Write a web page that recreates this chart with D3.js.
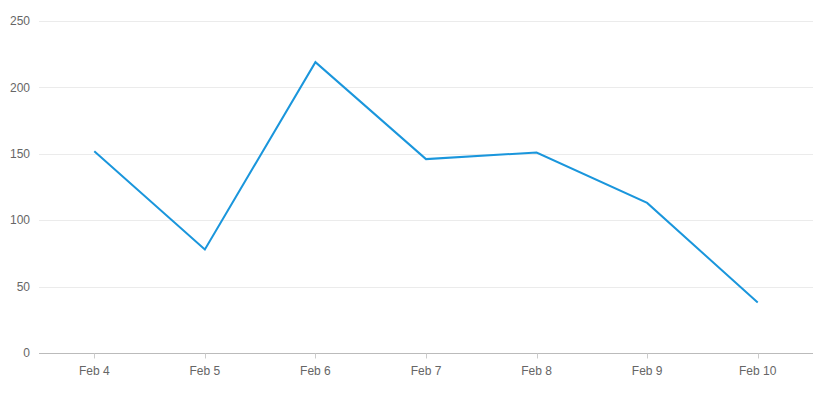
<!DOCTYPE html>
<html>
<head>
<meta charset="utf-8">
<script src="https://cdn.jsdelivr.net/npm/d3@7"></script>
<style>
  body { margin: 0; background: #fff; }
  svg text { font-family: "Liberation Sans", Arial, sans-serif; font-size: 12px; fill: #666; }
</style>
</head>
<body>
<svg></svg>
<script>
// chart data
const dates = ["Feb 4", "Feb 5", "Feb 6", "Feb 7", "Feb 8", "Feb 9", "Feb 10"];
const values = [152, 78, 219, 146, 151, 113, 38];
const yTicks = [0, 50, 100, 150, 200, 250];

const width = 831;
const height = 397;
const margin = { top: 21, right: 18, bottom: 44, left: 39 };

const svg = d3.select("svg").attr("width", width).attr("height", height);

const x = d3.scalePoint()
    .domain(dates)
    .range([margin.left, width - margin.right])
    .padding(0.5);

const y = d3.scaleLinear()
    .domain([0, 250])
    .range([height - margin.bottom, margin.top]);

// horizontal grid lines
svg.append("g")
    .selectAll("line")
    .data(yTicks.filter(d => d > 0))
    .enter()
    .append("line")
    .attr("x1", margin.left)
    .attr("x2", width - margin.right)
    .attr("y1", d => Math.round(y(d)) + 0.5)
    .attr("y2", d => Math.round(y(d)) + 0.5)
    .attr("stroke", "#ebebeb")
    .attr("stroke-width", 1);

// y labels
svg.append("g")
    .selectAll("text")
    .data(yTicks)
    .enter()
    .append("text")
    .attr("x", 30)
    .attr("y", d => y(d))
    .attr("dy", "0.35em")
    .attr("text-anchor", "end")
    .text(d => d);

// x axis
const baseY = Math.round(y(0)) + 0.5;
svg.append("line")
    .attr("x1", margin.left)
    .attr("x2", width - margin.right)
    .attr("y1", baseY)
    .attr("y2", baseY)
    .attr("stroke", "#bbb");

const xg = svg.append("g");
xg.selectAll("line")
    .data(dates)
    .enter()
    .append("line")
    .attr("x1", d => Math.round(x(d)) + 0.5)
    .attr("x2", d => Math.round(x(d)) + 0.5)
    .attr("y1", baseY)
    .attr("y2", baseY + 5)
    .attr("stroke", "#ccc");

xg.selectAll("text")
    .data(dates)
    .enter()
    .append("text")
    .attr("x", d => x(d))
    .attr("y", baseY + 21)
    .attr("text-anchor", "middle")
    .text(d => d);

// the line
const line = d3.line()
    .x((d, i) => x(dates[i]))
    .y(d => y(d));

svg.append("path")
    .datum(values)
    .attr("d", line)
    .attr("fill", "none")
    .attr("stroke", "#1a96dc")
    .attr("stroke-width", 2)
    .attr("stroke-linejoin", "miter");
</script>
</body>
</html>
